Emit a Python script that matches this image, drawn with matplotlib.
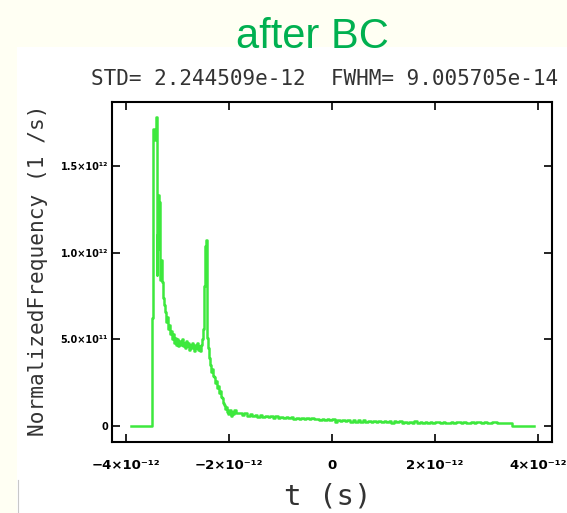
"""Bunch current profile after the bunch compressor (IDL-style histogram)."""

import matplotlib
matplotlib.use("Agg")
import matplotlib.pyplot as plt
from matplotlib.patches import Rectangle
from matplotlib.ticker import FixedLocator

# time in ps, normalized frequency in units of 1e11 1/s (step histogram)
t_ps = [
    -3.90, -3.50, -3.47, -3.44, -3.42, -3.40, -3.39, -3.38, -3.36, -3.35,
    -3.33, -3.32, -3.30, -3.28, -3.26, -3.24, -3.22, -3.20, -3.18, -3.16,
    -3.14, -3.12, -3.10, -3.08, -3.06, -3.04, -3.02, -3.00, -2.98, -2.96,
    -2.94, -2.92, -2.90, -2.88, -2.86, -2.84, -2.82, -2.80, -2.78, -2.76,
    -2.74, -2.72, -2.70, -2.68, -2.66, -2.64, -2.62, -2.60, -2.58, -2.56,
    -2.54, -2.52, -2.50, -2.49, -2.48, -2.47, -2.45, -2.44, -2.42, -2.41,
    -2.39, -2.37, -2.35, -2.33, -2.31, -2.29, -2.27, -2.25, -2.23, -2.21,
    -2.19, -2.17, -2.15, -2.13, -2.11, -2.09, -2.07, -2.05, -2.03, -2.01,
    -1.99, -1.97, -1.95, -1.93, -1.90, -1.86,
    -1.80, -1.75, -1.70, -1.65, -1.60, -1.55, -1.50, -1.45, -1.40, -1.35,
    -1.30, -1.25, -1.20, -1.15, -1.10, -1.05, -1.00, -0.95, -0.90, -0.85,
    -0.80, -0.75, -0.70, -0.65, -0.60, -0.55, -0.50, -0.45, -0.40, -0.35,
    -0.30, -0.25, -0.20, -0.15, -0.10, -0.05, 0.00, 0.05, 0.10, 0.15,
    0.20, 0.25, 0.30, 0.35, 0.40, 0.45, 0.50, 0.55, 0.60, 0.65,
    0.70, 0.75, 0.80, 0.85, 0.90, 0.95, 1.00, 1.05, 1.10, 1.15,
    1.20, 1.25, 1.30, 1.35, 1.40, 1.45, 1.50, 1.55, 1.60, 1.65,
    1.70, 1.75, 1.80, 1.85, 1.90, 1.95, 2.00, 2.10, 2.15, 2.20,
    2.30, 2.35, 2.40, 2.50, 2.55, 2.60, 2.70, 2.75, 2.80, 2.90,
    2.95, 3.00, 3.10, 3.20, 3.30, 3.40, 3.50, 3.92,
]
freq_e11 = [
    0.0, 6.2, 17.1, 16.5, 17.8, 8.7, 11.0, 13.3, 10.2, 12.9,
    8.4, 9.6, 8.3, 7.4, 7.0, 6.6, 6.0, 6.3, 5.6, 5.8,
    5.3, 5.5, 5.0, 5.3, 4.8, 5.1, 4.7, 5.0, 4.6, 4.9,
    4.7, 5.0, 4.6, 4.8, 4.5, 4.9, 4.6, 4.8, 4.4, 4.7,
    4.5, 4.8, 4.6, 4.3, 4.7, 4.5, 4.8, 4.4, 4.6, 4.3,
    4.7, 5.0, 5.6, 6.3, 8.1, 10.4, 10.1, 10.7, 5.1, 4.5,
    3.9, 3.5, 3.1, 3.3, 2.9, 2.8, 2.5, 2.6, 2.2, 2.3,
    1.9, 2.0, 1.7, 1.6, 1.3, 1.2, 1.0, 1.1, 0.8, 0.7,
    0.9, 0.6, 0.8, 0.7, 0.9, 0.75,
    0.78, 0.62, 0.74, 0.60, 0.70, 0.58, 0.66, 0.55, 0.63, 0.52,
    0.60, 0.50, 0.58, 0.49, 0.56, 0.47, 0.55, 0.46, 0.53, 0.44,
    0.50, 0.43, 0.49, 0.41, 0.47, 0.40, 0.46, 0.39, 0.44, 0.38,
    0.43, 0.36, 0.42, 0.35, 0.40, 0.34, 0.39, 0.26, 0.37, 0.28,
    0.36, 0.27, 0.35, 0.25, 0.34, 0.26, 0.33, 0.24, 0.32, 0.23,
    0.31, 0.24, 0.30, 0.22, 0.29, 0.21, 0.30, 0.22, 0.28, 0.20,
    0.27, 0.21, 0.28, 0.19, 0.26, 0.20, 0.25, 0.18, 0.27, 0.19,
    0.24, 0.17, 0.25, 0.18, 0.24, 0.17, 0.23, 0.18, 0.26, 0.17,
    0.24, 0.16, 0.23, 0.18, 0.25, 0.16, 0.22, 0.15, 0.24, 0.17,
    0.26, 0.19, 0.24, 0.18, 0.16, 0.17, 0.0, 0.0,
]

x_ticks = [-4e-12, -2e-12, 0.0, 2e-12, 4e-12]
x_tick_labels = ["\u22124\u00d710\u207b\u00b9\u00b2", "\u22122\u00d710\u207b\u00b9\u00b2", "0",
                 "2\u00d710\u207b\u00b9\u00b2", "4\u00d710\u207b\u00b9\u00b2"]
y_ticks = [0.0, 5e11, 1e12, 1.5e12]
y_tick_labels = ["0", "5.0\u00d710\u00b9\u00b9", "1.0\u00d710\u00b9\u00b2", "1.5\u00d710\u00b9\u00b2"]

title = "after BC"
stats = "STD= 2.244509e-12  FWHM= 9.005705e-14"

W, H = 567, 513
fig = plt.figure(figsize=(W / 100, H / 100), dpi=100)
fig.patch.set_facecolor("#fffff3")

# white slide panel behind the plot
fig.patches.append(Rectangle((17 / W, 0), 1 - 17 / W, 1 - 47 / H, transform=fig.transFigure,
                             facecolor="white", edgecolor="none", zorder=-2))
fig.add_artist(plt.Line2D([18 / W, 18 / W], [0, 1 - 480 / H], transform=fig.transFigure,
                          color="#c8c8c8", lw=0.8, zorder=-1))

ax = fig.add_axes([112 / W, 1 - 442 / H, 440 / W, 340 / H])
ax.set_zorder(2)
ax.set_facecolor("white")
ax.plot([t * 1e-12 for t in t_ps], [v * 1e11 for v in freq_e11],
        drawstyle="steps-post", color="#3de83d", lw=1.8)

ax.set_xlim(-4.27e-12, 4.27e-12)
ax.set_ylim(-0.92e11, 18.68e11)

ax.xaxis.set_major_locator(FixedLocator(x_ticks))
ax.yaxis.set_major_locator(FixedLocator(y_ticks))
ax.set_xticklabels(x_tick_labels, fontsize=9.5, fontweight="bold")
ax.set_yticklabels(y_tick_labels, fontsize=7, fontweight="bold")
ax.tick_params(axis="both", direction="in", top=True, right=True, length=6, width=1.2, color="black")
ax.tick_params(axis="x", pad=12)
ax.tick_params(axis="y", pad=3)
for spine in ax.spines.values():
    spine.set_linewidth(1.5)

fig.text(312 / W, 1 - 48 / H, title, color="#00b050", fontsize=30,
         family="Liberation Sans", ha="center", va="baseline")
fig.text(91 / W, 1 - 85 / H, stats, fontsize=15.1, family="DejaVu Sans Mono",
         ha="left", va="baseline", color="#333333")
fig.text(38 / W, 1 - 270 / H, "NormalizedFrequency (1 /s)", fontsize=15.2,
         family="DejaVu Sans Mono", rotation=90, ha="center", va="center", color="#333333")
fig.text(328 / W, 1 - 496 / H, "t (s)", fontsize=21, family="DejaVu Sans Mono",
         ha="center", va="center", color="#333333")

fig.savefig("out.png", dpi=100, facecolor=fig.get_facecolor())
